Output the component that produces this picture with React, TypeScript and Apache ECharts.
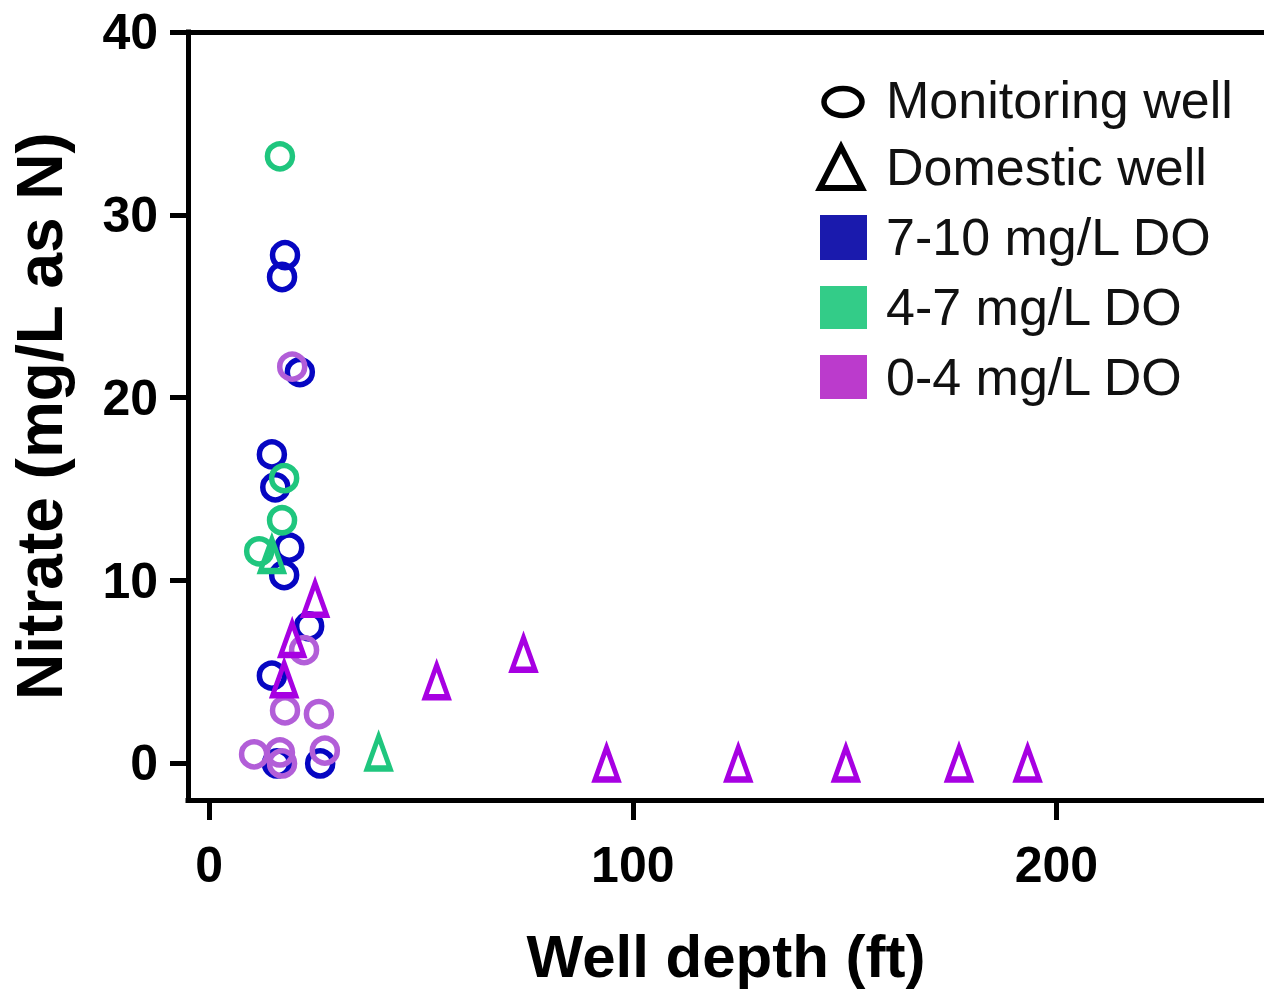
import React, { useEffect, useRef } from "react";
import * as echarts from "echarts";

// Monitoring wells (circles), split by dissolved-oxygen class
const monHighDepth = [17.9, 17.2, 21.4, 14.8, 15.6, 18.9, 17.7, 23.6, 14.8, 16.0, 26.2];
const monHighNitrate = [27.8, 26.6, 21.4, 16.9, 15.1, 11.8, 10.3, 7.5, 4.8, 0.0, 0.0];

const monMidDepth = [16.7, 17.7, 17.2, 11.8];
const monMidNitrate = [33.2, 15.6, 13.3, 11.6];

const monLowDepth = [19.6, 22.4, 17.9, 25.9, 10.6, 16.7, 17.2, 27.3];
const monLowNitrate = [21.7, 6.2, 2.9, 2.7, 0.5, 0.6, 0.0, 0.7];

// Domestic wells (triangles)
const domMidDepth = [14.8, 40.0];
const domMidNitrate = [11.4, 0.6];

const domLowDepth = [25.0, 19.6, 17.7, 53.7, 74.2, 93.8, 124.9, 150.3, 177.0, 193.2];
const domLowNitrate = [9.0, 6.8, 4.6, 4.5, 6.0, 0.0, 0.0, 0.0, 0.0, 0.0];

// Axis ticks
const xTicks = [0, 100, 200];
const yTicks = [0, 10, 20, 30, 40];

const legendLabels = [
  "Monitoring well",
  "Domestic well",
  "7-10 mg/L DO",
  "4-7 mg/L DO",
  "0-4 mg/L DO",
];

const BLUE = "#0606c2";
const GREEN = "#1fc67e";
const PURPLE_RING = "#b25ed8";
const PURPLE_TRI = "#a700e2";

const FONT = "'Liberation Sans', Arial, Helvetica, sans-serif";

const pairs = (xs: number[], ys: number[]) => xs.map((x, i) => [x, ys[i]]);

export default function App() {
  const ref = useRef<HTMLDivElement>(null);

  useEffect(() => {
    if (!ref.current) return;
    const chart = echarts.init(ref.current, undefined, { renderer: "svg" });

    const ring = (name: string, color: string, data: number[][]) => ({
      name,
      type: "scatter",
      symbol: "circle",
      symbolSize: 25,
      data,
      itemStyle: { color: "rgba(0,0,0,0)", borderColor: color, borderWidth: 5.5, opacity: 1 },
      emphasis: { disabled: true },
    });
    const tri = (name: string, color: string, data: number[][]) => ({
      name,
      type: "scatter",
      symbol: "triangle",
      symbolSize: [23, 32],
      data,
      itemStyle: { color: "rgba(0,0,0,0)", borderColor: color, borderWidth: 5.5, opacity: 1 },
      emphasis: { disabled: true },
    });

    const legendRowY = [100, 167, 237, 307, 377];
    const legendGraphics: any[] = [
      {
        type: "ellipse",
        shape: { cx: 843, cy: 102, rx: 19, ry: 13.5 },
        style: { fill: "none", stroke: "#000", lineWidth: 5.5 },
      },
      {
        type: "polygon",
        shape: { points: [[841, 147], [820, 188], [862, 188]] },
        style: { fill: "none", stroke: "#000", lineWidth: 6, lineJoin: "miter" },
      },
      { type: "rect", shape: { x: 820, y: 215, width: 47, height: 45 }, style: { fill: "#1a1aad" } },
      { type: "rect", shape: { x: 820, y: 286, width: 47, height: 43 }, style: { fill: "#33cc88" } },
      { type: "rect", shape: { x: 820, y: 355, width: 47, height: 44 }, style: { fill: "#bb3bcc" } },
      ...legendLabels.map((t, i) => ({
        type: "text",
        x: 886,
        y: legendRowY[i],
        style: {
          text: t,
          fill: "#111",
          font: `52px ${FONT}`,
          verticalAlign: "middle",
          align: "left",
        },
      })),
    ];

    chart.setOption({
      animation: false,
      backgroundColor: "#fff",
      grid: { left: 186, right: 0, top: 32, bottom: 195 },
      xAxis: [
        {
          type: "value",
          min: -5,
          max: 249,
          name: "Well depth (ft)",
          nameLocation: "middle",
          nameGap: 126,
          nameTextStyle: { fontSize: 60, fontWeight: "bold", color: "#000", fontFamily: FONT },
          axisLine: { show: true, onZero: false, lineStyle: { color: "#000", width: 5, cap: "square" } },
          axisTick: { show: true, length: 20, lineStyle: { color: "#000", width: 5 }, customValues: xTicks },
          axisLabel: {
            fontSize: 50,
            fontWeight: "bold",
            color: "#000",
            fontFamily: FONT,
            margin: 40,
            customValues: xTicks,
          },
          splitLine: { show: false },
        },
        {
          type: "value",
          position: "top",
          min: -5,
          max: 249,
          axisLine: { show: true, onZero: false, lineStyle: { color: "#000", width: 5, cap: "square" } },
          axisTick: { show: false },
          axisLabel: { show: false },
          splitLine: { show: false },
        },
      ],
      yAxis: {
        type: "value",
        min: -2,
        max: 40,
        name: "Nitrate (mg/L as N)",
        nameLocation: "middle",
        nameGap: 116,
        nameRotate: 90,
        nameTextStyle: { fontSize: 64, fontWeight: "bold", color: "#000", fontFamily: FONT },
        axisLine: { show: true, onZero: false, lineStyle: { color: "#000", width: 5, cap: "square" } },
        axisTick: { show: true, length: 18, lineStyle: { color: "#000", width: 5 }, customValues: yTicks },
        axisLabel: {
          fontSize: 50,
          fontWeight: "bold",
          color: "#000",
          fontFamily: FONT,
          margin: 30,
          customValues: yTicks,
        },
        splitLine: { show: false },
      },
      series: [
        ring("Monitoring 7-10", BLUE, pairs(monHighDepth, monHighNitrate)),
        ring("Monitoring 4-7", GREEN, pairs(monMidDepth, monMidNitrate)),
        ring("Monitoring 0-4", PURPLE_RING, pairs(monLowDepth, monLowNitrate)),
        tri("Domestic 4-7", GREEN, pairs(domMidDepth, domMidNitrate)),
        tri("Domestic 0-4", PURPLE_TRI, pairs(domLowDepth, domLowNitrate)),
      ],
      graphic: legendGraphics,
    });

    return () => chart.dispose();
  }, []);

  return (
    <div
      ref={ref}
      style={{ position: "absolute", left: 0, top: 0, width: 1264, height: 995 }}
    />
  );
}
